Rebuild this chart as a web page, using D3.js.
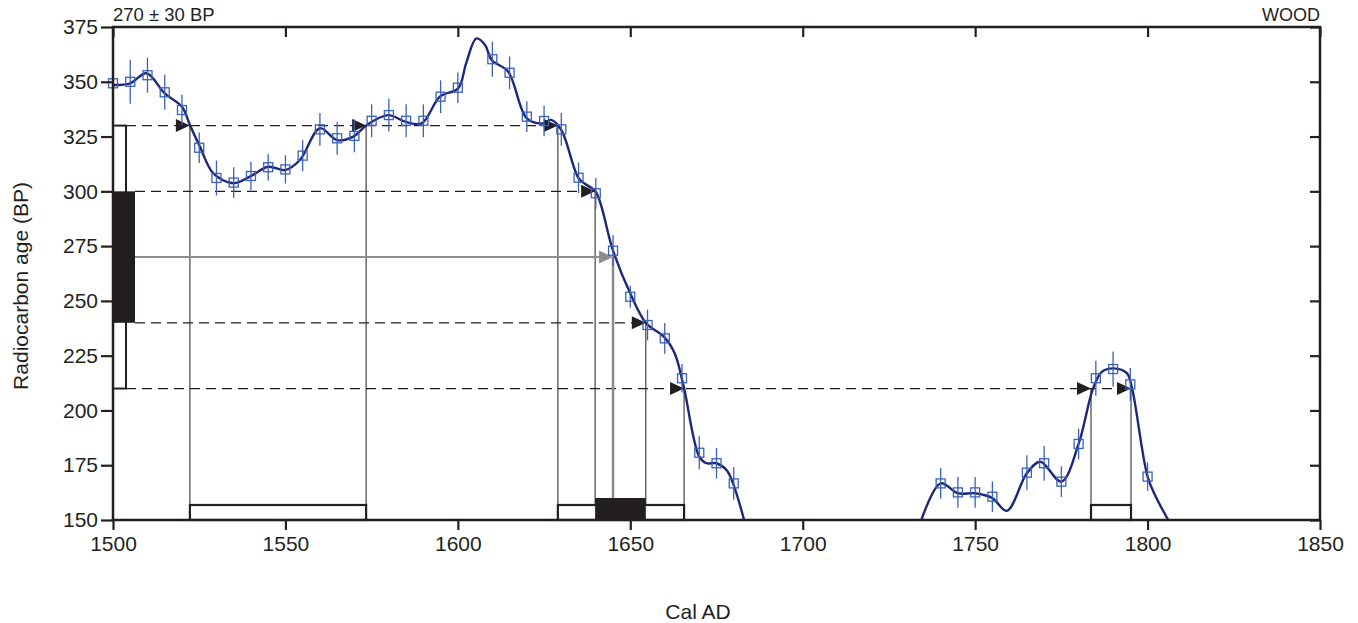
<!DOCTYPE html>
<html>
<head>
<meta charset="utf-8">
<script src="https://cdn.jsdelivr.net/npm/d3@7"></script>
<style>
  body { margin: 0; background: #fff; }
  svg text { font-family: "Liberation Sans", Arial, sans-serif; fill: #231f20; }
</style>
</head>
<body>
<svg id="chart" width="1358" height="623"></svg>
<script>
// measured sample
var SAMPLE_AGE = 270;
var SAMPLE_ERR = 30;

// calibration data points (cal AD, BP, 1 sigma)
var pointYears = [1500, 1505, 1510, 1515, 1520, 1525, 1530, 1535, 1540, 1545, 1550, 1555, 1560, 1565, 1570,
  1575, 1580, 1585, 1590, 1595, 1600, 1610, 1615, 1620, 1625, 1630, 1635, 1640, 1645, 1650, 1655, 1660,
  1665, 1670, 1675, 1680, 1740, 1745, 1750, 1755, 1765, 1770, 1775, 1780, 1785, 1790, 1795, 1800];
var pointAges = [349.3, 350, 353, 345.2, 337.1, 319.9, 306.1, 304, 307, 311, 310, 316.3, 328.3, 324.2, 325.3,
  332.2, 334.8, 332.2, 332.2, 343.2, 347.3, 360.3, 354.1, 334.1, 332.1, 328.3, 306.2, 299.1, 272.9, 251.9,
  239, 232.9, 214.7, 180.7, 175.9, 166.7, 166.7, 162.6, 162.6, 160.6, 171.6, 175.9, 167.5, 184.7, 214.7,
  218.9, 211.9, 169.8];
var pointErrors = [8, 10, 8, 8, 7, 7, 8, 7, 6.5, 6, 6.5, 7, 7.5, 7.5, 7.5,
  7.5, 7.5, 7.5, 7.5, 7.5, 7, 8, 7.5, 7, 7, 7.5, 7, 7, 7, 5,
  7, 7, 6.5, 7.5, 7, 7.5, 7, 7, 7, 7, 8, 8, 7, 7, 8,
  8, 7.5, 6.5];

// smoothed calibration curve (null = below the axis)
var curveYears = [1500, 1505, 1509.7, 1515, 1520, 1522.3, 1525.2, 1529.1, 1534.9, 1539.7, 1545, 1549.9,
  1554.2, 1560, 1564.9, 1569.7, 1573.6, 1579.8, 1584.7, 1589.5, 1594.8, 1600.1, 1602.4, 1605.4, 1607.9,
  1609.8, 1614.6, 1620, 1624.8, 1627, 1630, 1635, 1637.4, 1640, 1645, 1650, 1654.6, 1659.8, 1662.9,
  1665.5, 1670, 1672.1, 1675, 1677.9, 1679.8, 1683, 1710,
  1734.4, 1740, 1745, 1750, 1755, 1759.2, 1765, 1768.9, 1775, 1780, 1784.2, 1786.8, 1790.2, 1794,
  1795.5, 1800, 1802.4, 1806];
var curveAges = [348.5, 349.3, 353.9, 344.7, 338.6, 330.3, 320.4, 308.2, 303.7, 306.7, 311.2, 309.7,
  314.3, 328.8, 323.4, 325, 330.3, 334.8, 331.8, 331, 343.2, 347, 358.4, 369.8, 366.8,
  359.9, 354.6, 333.3, 331, 332.6, 328, 306, 302.9, 299.8, 272.9, 253.4, 239.8, 233.6, 226,
  210.8, 178.9, 175.9, 175.9, 172.8, 166.7, 150, null,
  150, 166.7, 162.2, 162.2, 160, 154.2, 171.3, 176.6, 167.5, 184.7, 210.1, 217.7, 219.2, 217,
  210.1, 169.8, 160.6, 150];

// intercepts of the sample range with the curve
var levels2s = [330, 210];
var levels1s = [300, 240];
var cross330 = [1522.3, 1573.4, 1629.0];
var cross300 = [1639.8];
var cross240 = [1654.5];
var cross210 = [1665.6, 1783.6, 1795.2];
var crossMean = 1645.0;
var ranges2s = [[1522.3, 1573.4], [1629.0, 1665.6], [1783.6, 1795.2]];
var ranges1s = [[1639.8, 1654.5]];

var yTicks = [150, 175, 200, 225, 250, 275, 300, 325, 350, 375];
var xTicks = [1500, 1550, 1600, 1650, 1700, 1750, 1800, 1850];

var INK = '#231f20';
var CURVE = '#1f2778';
var POINT = '#3b62b8';
var GREY = '#8d8d8d';

var svg = d3.select('#chart');
var M = {left: 113, right: 1320, top: 27, bottom: 520};

var x = d3.scaleLinear().domain([1500, 1850]).range([M.left, M.right]);
var y = d3.scaleLinear().domain([150, 375]).range([M.bottom, M.top]);

function arrow(g, xt, yt, color){
  g.append('path')
    .attr('d', 'M' + xt + ',' + yt + 'L' + (xt - 14) + ',' + (yt - 6.5) + 'L' + (xt - 14) + ',' + (yt + 6.5) + 'Z')
    .attr('fill', color);
}

function drawGuides(){
  var g = svg.append('g');
  var whiteEdge = M.left + 13, blackEdge = M.left + 22;

  // dashed level lines
  var dashed = [
    {age: levels2s[0], from: whiteEdge, hits: cross330},
    {age: levels1s[0], from: blackEdge, hits: cross300},
    {age: levels1s[1], from: blackEdge, hits: cross240},
    {age: levels2s[1], from: whiteEdge, hits: cross210}
  ];
  dashed.forEach(function(d){
    var last = d3.max(d.hits);
    g.append('line')
      .attr('x1', d.from).attr('x2', x(last))
      .attr('y1', y(d.age)).attr('y2', y(d.age))
      .attr('stroke', INK).attr('stroke-width', 1.2)
      .attr('stroke-dasharray', '10,6');
    d.hits.forEach(function(h){
      g.append('line')
        .attr('x1', x(h)).attr('x2', x(h))
        .attr('y1', y(d.age)).attr('y2', M.bottom)
        .attr('stroke', '#333').attr('stroke-width', 1.1);
    });
  });

  // mean line in grey
  g.append('line')
    .attr('x1', blackEdge).attr('x2', x(crossMean) - 6)
    .attr('y1', y(SAMPLE_AGE)).attr('y2', y(SAMPLE_AGE))
    .attr('stroke', GREY).attr('stroke-width', 2);
  g.append('line')
    .attr('x1', x(crossMean)).attr('x2', x(crossMean))
    .attr('y1', y(SAMPLE_AGE)).attr('y2', M.bottom)
    .attr('stroke', GREY).attr('stroke-width', 2.5);

  // left bars (sample 1 and 2 sigma)
  g.append('rect')
    .attr('x', M.left).attr('width', whiteEdge - M.left)
    .attr('y', y(SAMPLE_AGE + 2 * SAMPLE_ERR))
    .attr('height', y(SAMPLE_AGE - 2 * SAMPLE_ERR) - y(SAMPLE_AGE + 2 * SAMPLE_ERR))
    .attr('fill', '#fff').attr('stroke', INK).attr('stroke-width', 2);
  g.append('rect')
    .attr('x', M.left).attr('width', blackEdge - M.left)
    .attr('y', y(SAMPLE_AGE + SAMPLE_ERR))
    .attr('height', y(SAMPLE_AGE - SAMPLE_ERR) - y(SAMPLE_AGE + SAMPLE_ERR))
    .attr('fill', INK);

  // calibrated ranges on the bottom
  ranges2s.forEach(function(r){
    g.append('rect')
      .attr('x', x(r[0])).attr('width', x(r[1]) - x(r[0]))
      .attr('y', M.bottom - 15).attr('height', 15)
      .attr('fill', '#fff').attr('stroke', INK).attr('stroke-width', 2.2);
  });
  ranges1s.forEach(function(r){
    g.append('rect')
      .attr('x', x(r[0])).attr('width', x(r[1]) - x(r[0]))
      .attr('y', M.bottom - 22).attr('height', 22)
      .attr('fill', INK);
  });
}

function drawArrows(){
  var g = svg.append('g');
  [[levels2s[0], cross330], [levels1s[0], cross300], [levels1s[1], cross240], [levels2s[1], cross210]]
    .forEach(function(d){
      d[1].forEach(function(h){ arrow(g, x(h), y(d[0]), INK); });
    });
  arrow(g, x(crossMean), y(SAMPLE_AGE), GREY);
}

function drawCurve(){
  var pts = curveYears.map(function(yr, i){ return {yr: yr, age: curveAges[i]}; });
  var line = d3.line()
    .defined(function(d){ return d.age !== null; })
    .x(function(d){ return x(d.yr); })
    .y(function(d){ return y(d.age); })
    .curve(d3.curveCatmullRom.alpha(0.5));
  svg.append('path')
    .datum(pts)
    .attr('d', line)
    .attr('fill', 'none')
    .attr('stroke', CURVE)
    .attr('stroke-width', 2.4);
}

function drawPoints(){
  var data = pointYears.map(function(yr, i){ return {yr: yr, age: pointAges[i], err: pointErrors[i]}; });
  var items = svg.append('g').selectAll('.pt').data(data);
  var g = items.enter().append('g').attr('class', 'pt');
  g.append('line')
    .attr('x1', function(d){ return x(d.yr); })
    .attr('x2', function(d){ return x(d.yr); })
    .attr('y1', function(d){ return y(d.age + d.err); })
    .attr('y2', function(d){ return y(d.age - d.err); })
    .attr('stroke', POINT).attr('stroke-width', 1.3);
  g.append('rect')
    .attr('x', function(d){ return x(d.yr) - 4.5; })
    .attr('y', function(d){ return y(d.age) - 4.5; })
    .attr('width', 9).attr('height', 9)
    .attr('fill', 'none')
    .attr('stroke', POINT).attr('stroke-width', 1.3);
}

function drawAxes(){
  var yl = svg.append('g').attr('transform', 'translate(' + M.left + ',0)')
    .call(d3.axisLeft(y).tickValues(yTicks).tickSize(12).tickSizeOuter(0).tickPadding(3));
  var xb = svg.append('g').attr('transform', 'translate(0,' + M.bottom + ')')
    .call(d3.axisBottom(x).tickValues(xTicks).tickFormat(d3.format('d')).tickSize(10).tickSizeOuter(0).tickPadding(6));
  var yr = svg.append('g').attr('transform', 'translate(' + M.right + ',0)')
    .call(d3.axisRight(y).tickValues(yTicks).tickSize(-10).tickSizeOuter(0).tickFormat(''));
  var xt = svg.append('g').attr('transform', 'translate(0,' + M.top + ')')
    .call(d3.axisTop(x).tickValues(xTicks).tickSize(-10).tickSizeOuter(0).tickFormat(''));

  [yl, xb, yr, xt].forEach(function(a){
    a.attr('font-size', 21).attr('font-family', '"Liberation Sans", Arial, sans-serif');
    a.selectAll('.domain').remove();
    a.selectAll('.tick line').attr('stroke', INK).attr('stroke-width', 2.2);
    a.selectAll('.tick text').attr('fill', INK);
  });

  svg.append('rect')
    .attr('x', M.left).attr('y', M.top)
    .attr('width', M.right - M.left).attr('height', M.bottom - M.top)
    .attr('fill', 'none').attr('stroke', INK).attr('stroke-width', 2.5);

  svg.append('text')
    .attr('transform', 'translate(28,286) rotate(-90)')
    .attr('text-anchor', 'middle')
    .attr('font-size', 21)
    .text('Radiocarbon age (BP)');

  svg.append('text')
    .attr('x', 698).attr('y', 619)
    .attr('text-anchor', 'middle')
    .attr('font-size', 21)
    .text('Cal AD');

  svg.append('text')
    .attr('x', M.left).attr('y', 21)
    .attr('font-size', 18.5)
    .text('270 \u00b1 30 BP');

  svg.append('text')
    .attr('x', M.right).attr('y', 21)
    .attr('text-anchor', 'end')
    .attr('font-size', 18)
    .text('WOOD');
}

drawGuides();
drawCurve();
drawArrows();
drawPoints();
drawAxes();
</script>
</body>
</html>
